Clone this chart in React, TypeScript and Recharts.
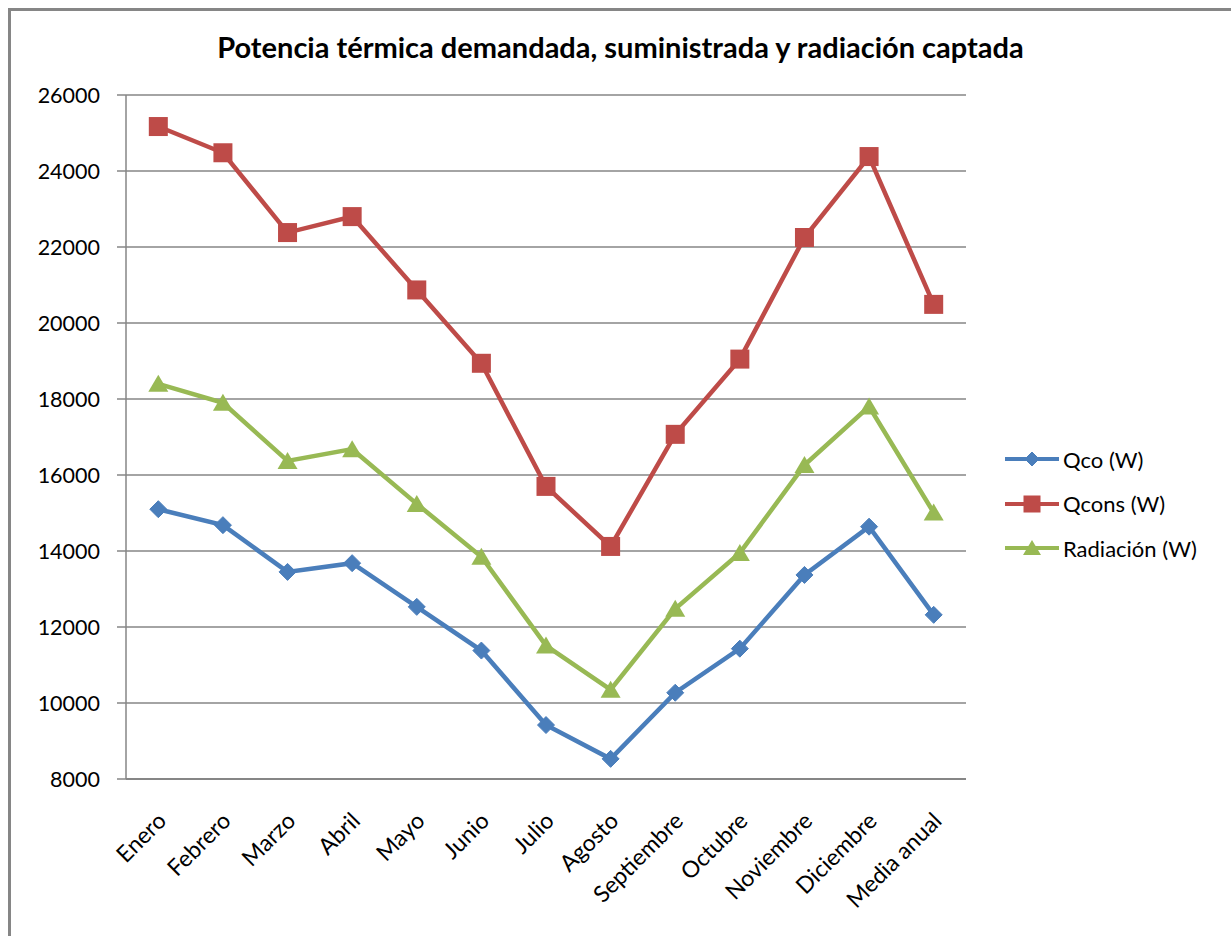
import React from 'react';
import { LineChart, Line, XAxis, YAxis, CartesianGrid, Legend } from 'recharts';

const categories = ['Enero', 'Febrero', 'Marzo', 'Abril', 'Mayo', 'Junio', 'Julio', 'Agosto', 'Septiembre', 'Octubre', 'Noviembre', 'Diciembre', 'Media anual'];
const qco = [15100, 14680, 13450, 13680, 12530, 11380, 9420, 8530, 10270, 11430, 13370, 14640, 12320];
const qcons = [25170, 24480, 22380, 22800, 20870, 18940, 15700, 14120, 17070, 19050, 22250, 24380, 20490];
const radiacion = [18400, 17900, 16370, 16680, 15240, 13850, 11510, 10350, 12480, 13950, 16260, 17800, 15010];
const yTicks = [8000, 10000, 12000, 14000, 16000, 18000, 20000, 22000, 24000, 26000];
const title = 'Potencia térmica demandada, suministrada y radiación captada';

const data = categories.map((name, i) => ({
  idx: i + 0.5,
  name,
  qco: qco[i],
  qcons: qcons[i],
  rad: radiacion[i],
}));
const boundaryTicks = categories.map((_, i) => i).concat([categories.length]);
const centerTicks = categories.map((_, i) => i + 0.5);

const BLUE = '#4A7EBB';
const RED = '#BE4B48';
const GREEN = '#98B954';
const GRAY = '#868686';
const FONT = 'Lato, "DejaVu Sans", sans-serif';

const Diamond = ({ cx, cy, color, r = 8.5 }: any) => (
  <path d={`M${cx},${cy - r}L${cx + r},${cy}L${cx},${cy + r}L${cx - r},${cy}Z`} fill={color} stroke={color} strokeWidth={1} />
);
const Square = ({ cx, cy, color, s = 19 }: any) => (
  <rect x={cx - s / 2} y={cy - s / 2} width={s} height={s} fill={color} />
);
const Triangle = ({ cx, cy, color, w = 20, h = 16 }: any) => (
  <path d={`M${cx},${cy - h / 2 - 1}L${cx + w / 2},${cy + h / 2}L${cx - w / 2},${cy + h / 2}Z`} fill={color} />
);

const series = [
  { key: 'qco', label: 'Qco (W)', color: BLUE, Marker: Diamond },
  { key: 'qcons', label: 'Qcons (W)', color: RED, Marker: Square },
  { key: 'rad', label: 'Radiación (W)', color: GREEN, Marker: Triangle },
];

const CategoryTick = (props: any) => {
  const { x, y, payload } = props;
  const i = Math.round(payload.value - 0.5);
  const ax = x + 3;
  const ay = y + 36;
  return (
    <text
      x={ax}
      y={ay}
      transform={`rotate(-45, ${ax}, ${ay})`}
      textAnchor="end"
      dominantBaseline="central"
      fontFamily={FONT}
      fontSize={23}
      fill="#000"
    >
      {categories[i]}
    </text>
  );
};

const LegendContent = () => (
  <div style={{ fontFamily: FONT, fontSize: 22, color: '#000' }}>
    {series.map((s) => (
      <div key={s.key} style={{ display: 'flex', alignItems: 'center', height: 44.5 }}>
        <svg width={56} height={24} style={{ display: 'block' }}>
          <line x1={0} y1={12} x2={54} y2={12} stroke={s.color} strokeWidth={4} />
          <s.Marker cx={27} cy={12} color={s.color} {...(s.key === 'qcons' ? { s: 17 } : s.key === 'qco' ? { r: 7 } : { w: 18, h: 14 })} />
        </svg>
        <span style={{ marginLeft: 2, whiteSpace: 'nowrap' }}>{s.label}</span>
      </div>
    ))}
  </div>
);

export default function App() {
  return (
    <div style={{ position: 'fixed', left: 0, top: 0, width: 1231, height: 936, background: '#fff', overflow: 'hidden' }}>
      <div
        style={{
          position: 'absolute',
          left: 8,
          top: 8,
          width: 1400,
          height: 1100,
          borderLeft: `3px solid ${GRAY}`,
          borderTop: `3px solid ${GRAY}`,
        }}
      />
      <div
        style={{
          position: 'absolute',
          left: 0,
          width: 1241,
          top: 28,
          textAlign: 'center',
          fontFamily: FONT,
          fontWeight: 'bold',
          fontSize: 29,
          lineHeight: '38px',
          color: '#000',
          whiteSpace: 'nowrap',
        }}
      >
        {title}
      </div>
      <div style={{ position: 'absolute', left: 0, top: 0 }}>
        <LineChart width={1231} height={936} data={data} margin={{ top: 95, right: 265, bottom: 6, left: 0 }}>
          <CartesianGrid xAxisId="lab" yAxisId="y" vertical={false} stroke={GRAY} strokeWidth={1.5} />
          <XAxis
            xAxisId="grid"
            type="number"
            dataKey="idx"
            domain={[0, categories.length]}
            ticks={boundaryTicks}
            interval={0}
            tick={false}
            tickLine={{ stroke: GRAY, strokeWidth: 2 }}
            tickSize={7}
            axisLine={{ stroke: GRAY, strokeWidth: 2 }}
            height={1}
          />
          <XAxis
            xAxisId="lab"
            type="number"
            dataKey="idx"
            domain={[0, categories.length]}
            ticks={centerTicks}
            interval={0}
            tick={<CategoryTick />}
            tickLine={false}
            tickSize={0}
            tickMargin={0}
            axisLine={false}
            height={150}
          />
          <YAxis
            yAxisId="y"
            type="number"
            domain={[8000, 26000]}
            ticks={yTicks}
            interval={0}
            width={126}
            tickSize={9}
            tickMargin={17}
            tickLine={{ stroke: GRAY, strokeWidth: 1.5 }}
            axisLine={{ stroke: GRAY, strokeWidth: 1.5 }}
            tick={{ fill: '#000', fontFamily: FONT, fontSize: 21.5 }}
          />
          <Legend
            layout="vertical"
            align="center"
            verticalAlign="middle"
            content={<LegendContent />}
            wrapperStyle={{ left: 1005, top: 437, width: 220, height: 134 }}
          />
          {series.map((s) => (
            <Line
              key={s.key}
              xAxisId="lab"
              yAxisId="y"
              type="linear"
              dataKey={s.key}
              name={s.label}
              stroke={s.color}
              strokeWidth={4.5}
              isAnimationActive={false}
              dot={(p: any) => <s.Marker key={`${s.key}-${p.index}`} cx={p.cx} cy={p.cy} color={s.color} />}
              activeDot={false}
            />
          ))}
        </LineChart>
      </div>
    </div>
  );
}
